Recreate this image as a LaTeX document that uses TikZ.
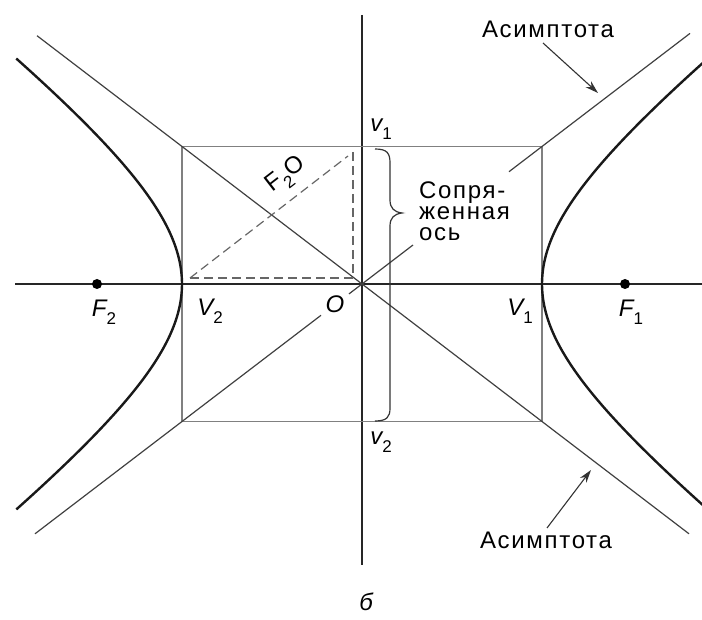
\documentclass[tikz,border=0pt]{standalone}
\usepackage{fontspec}
\setmainfont{Liberation Sans}
\newfontfamily\widefont[LetterSpace=7]{Liberation Sans}
\usetikzlibrary{arrows.meta}
\newcommand\subs[1]{\raisebox{-0.32em}{\fontsize{17}{17}\selectfont\upshape #1}}
\begin{document}
\begin{tikzpicture}[x=1pt,y=-1pt,
  axisline/.style={line width=1.6pt, black!85},
  boxline/.style={line width=1.5pt, black!50},
  asym/.style={line width=1.2pt, black!75},
  hyp/.style={line width=2.4pt, black!90},
  dashline/.style={line width=1.2pt, black!60, dash pattern=on 9pt off 5pt},
  lbl/.style={font=\fontsize{24}{26}\selectfont\itshape, inner sep=0pt},
  txt/.style={font=\widefont\fontsize{24}{21}\selectfont, inner sep=0pt},
  arr/.style={line width=1.1pt, black!80, -{Stealth[length=13pt,width=8pt]}},
  dot/.style={circle, fill=black, inner sep=0pt, minimum size=10pt}
]
\useasboundingbox (0,0) rectangle (702,620);
% key points
\coordinate (O) at (362,284);
\coordinate (TL) at (182,146.5);
\coordinate (TR) at (542,146.5);
\coordinate (BL) at (182,421.5);
\coordinate (BR) at (542,421.5);
% axes
\coordinate (axL) at (15,284);
\coordinate (axR) at (702,284);
\coordinate (axT) at (362,15);
\coordinate (axB) at (362,565);
\draw[axisline] (axL) -- (axR);
\draw[axisline] (axT) -- (axB);
% box
\draw[boxline] (TL) rectangle (BR);
% asymptote 1 (down-right)
\coordinate (a1s) at (37,35.7);
\coordinate (a1e) at (689,533.8);
\draw[asym] (a1s) -- (a1e);
% asymptote 2 (up-right), with gaps
\coordinate (a2s) at (35,533.8);
\coordinate (g1) at (321,315.3);
\coordinate (g2) at (349,293.9);
\coordinate (g3) at (413,245.0);
\coordinate (g4) at (509,171.7);
\coordinate (a2e) at (690,33.4);
\draw[asym] (a2s) -- (g1);
\draw[asym] (g2) -- (O) -- (g3);
\draw[asym] (g4) -- (a2e);
% hyperbola
\draw[hyp] plot[domain=-1.27:1.27, samples=80, smooth] ({362-180*cosh(\x)}, {284+137.5*sinh(\x)});
\draw[hyp] plot[domain=-1.28:1.28, samples=80, smooth] ({362+180*cosh(\x)}, {284+137.5*sinh(\x)});
% foci
\node[dot] (F2) at (97,284) {};
\node[dot] (F1) at (625,284) {};
% dashed triangle
\coordinate (d1) at (190,278);
\coordinate (d2) at (356,278);
\coordinate (d3) at (353,152);
\coordinate (d4) at (353,278);
\coordinate (d5) at (348,156);
\draw[dashline] (d1) -- (d2);
\draw[dashline] (d3) -- (d4);
\draw[dashline] (d1) -- (d5);
% brace
\draw[line width=1.2pt, black!80] (375,149) .. controls (387,149) and (390,153) .. (390,163)
  -- (390,200) .. controls (390,208) and (394,212) .. (402,213)
  .. controls (394,214) and (390,218) .. (390,226)
  -- (390,408) .. controls (390,417) and (387,421) .. (375,421);
% labels
\node[lbl] (lF2) at (104,312) {F\subs{2}};
\node[lbl] (lV2) at (210,311) {V\subs{2}};
\node[lbl] (lO) at (335,304) {O};
\node[lbl] (lV1) at (520,311) {V\subs{1}};
\node[lbl] (lF1) at (631,312) {F\subs{1}};
\node[lbl] (lv1) at (381,129) {v\subs{1}};
\node[lbl] (lv2) at (381,442) {v\subs{2}};
\node[font=\fontsize{24}{26}\selectfont, inner sep=0pt, rotate=37.7] (lF2O) at (287,176) {F\subs{2}O};
\node[txt, align=left, anchor=north west] (conj) at (419,182) {Сопря-\\женная\\ось};
\node[txt] (as1) at (548,29) {Асимптота};
\node[txt] (as2) at (546,540) {Асимптота};
\coordinate (t1) at (598,93);
\coordinate (t2) at (591,470);
\draw[arr] (543,43) -- (t1);
\draw[arr] (547,528) -- (t2);
\node[lbl] (cap) at (366,602) {б};
\end{tikzpicture}
\end{document}
